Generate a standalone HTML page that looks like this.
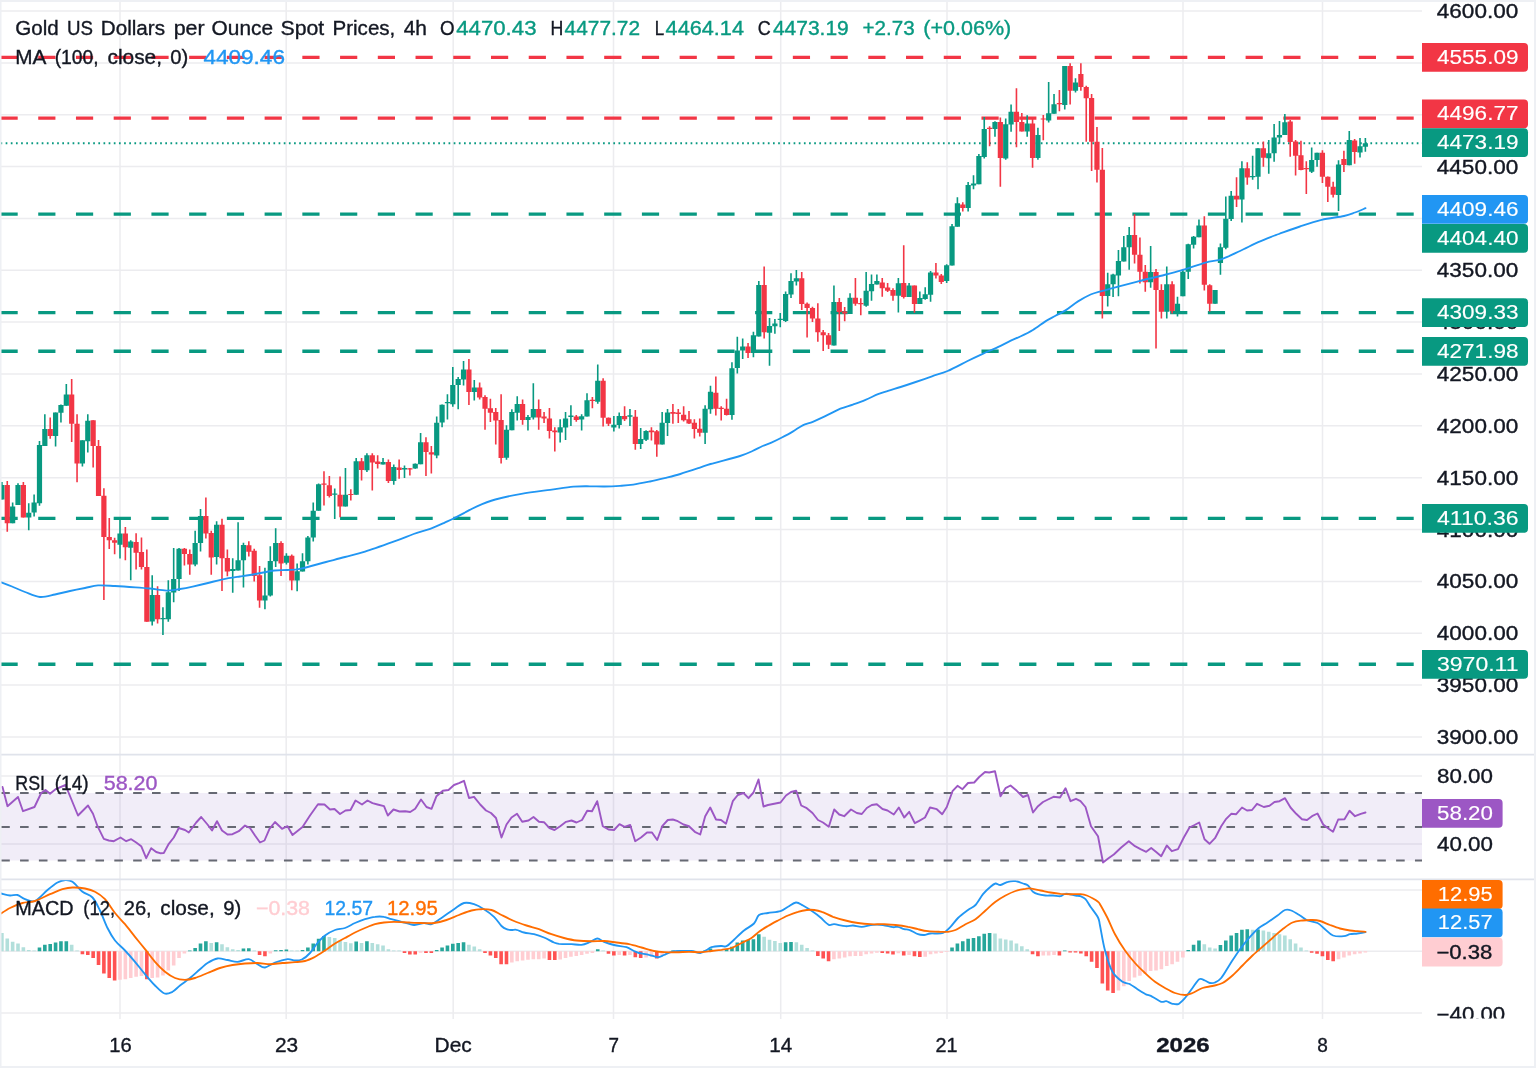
<!DOCTYPE html>
<html lang="en"><head><meta charset="utf-8"><title>Gold US Dollars per Ounce Spot Prices, 4h</title>
<style>html,body{margin:0;padding:0;background:#fff}body{width:1536px;height:1068px;overflow:hidden}svg{display:block}text{font-family:"Liberation Sans", sans-serif;font-size:19.3px;stroke-width:0.35px;paint-order:stroke}</style>
</head><body>
<svg width="1536" height="1068" viewBox="0 0 1536 1068">
<rect x="0" y="0" width="1536" height="1068" fill="#ffffff"/>
<g stroke="#ececef" stroke-width="1.5" fill="none">
<path d="M120.0 2V1019"/>
<path d="M286.2 2V1019"/>
<path d="M453.2 2V1019"/>
<path d="M613.5 2V1019"/>
<path d="M780.7 2V1019"/>
<path d="M947.0 2V1019"/>
<path d="M1183.0 2V1019"/>
<path d="M1322.5 2V1019"/>
<path d="M1 737.0H1422"/>
<path d="M1 685.1H1422"/>
<path d="M1 633.3H1422"/>
<path d="M1 581.4H1422"/>
<path d="M1 529.5H1422"/>
<path d="M1 477.7H1422"/>
<path d="M1 425.8H1422"/>
<path d="M1 374.0H1422"/>
<path d="M1 322.1H1422"/>
<path d="M1 270.3H1422"/>
<path d="M1 218.4H1422"/>
<path d="M1 166.6H1422"/>
<path d="M1 114.7H1422"/>
<path d="M1 62.9H1422"/>
<path d="M1 11.0H1422"/>
<path d="M1 776.1H1422"/>
<path d="M1 843.9H1422"/>
<path d="M1 890.0H1422"/>
<path d="M1 951.2H1422"/>
<path d="M1 1013.0H1422"/>
</g>
<rect x="1" y="793" width="1421" height="67.5" fill="#7e57c2" fill-opacity="0.11"/>
<g stroke="#666973" stroke-width="1.9" stroke-dasharray="8.6 10.25" fill="none">
<path d="M1.2 793.0H1422"/>
<path d="M1.2 827.0H1422"/>
<path d="M1.2 860.5H1422"/>
</g>
<g stroke-width="3.4" stroke-dasharray="17.2 20.53" fill="none">
<path d="M0.5 57.4H1422" stroke="#f23645"/>
<path d="M0.5 118.1H1422" stroke="#f23645"/>
<path d="M0.5 214.1H1422" stroke="#089981"/>
<path d="M0.5 312.6H1422" stroke="#089981"/>
<path d="M0.5 351.3H1422" stroke="#089981"/>
<path d="M0.5 518.4H1422" stroke="#089981"/>
<path d="M0.5 664.3H1422" stroke="#089981"/>
</g>
<path d="M0.5 143.2H1422" stroke="#089981" stroke-width="1.9" stroke-dasharray="1.7 3.45" fill="none"/>
<path d="M1.90 481.9V499.5M12.64 502.4V523.3M18.00 483.2V505.1M28.74 503.2V530.2M34.11 494.5V516.4M39.48 440.9V505.8M44.84 414.2V445.9M55.58 412.4V446.5M60.95 404.5V422.4M66.32 384.1V405.8M82.42 440.3V466.6M87.79 414.2V452.6M120.00 518.3V558.5M130.73 540.2V580.3M152.20 575.3V625.5M162.94 607.3V634.9M168.31 580.3V621.7M173.68 547.9V602.3M179.04 547.9V591.0M195.15 530.7V566.2M200.52 509.0V551.4M216.62 521.3V564.6M232.72 558.3V592.8M238.09 522.3V570.5M243.46 542.7V587.6M264.93 567.8V609.2M270.30 546.2V596.6M275.67 528.2V567.1M286.40 553.3V564.6M297.14 563.4V591.3M302.51 553.3V571.5M307.88 536.1V564.6M313.24 502.5V541.4M318.61 483.4V510.7M334.72 488.5V518.9M345.45 468.0V506.4M356.19 458.0V494.7M366.92 453.3V472.1M383.03 458.0V464.6M393.76 464.6V484.7M404.50 465.5V478.0M415.24 463.4V468.8M420.60 433.1V464.2M436.71 416.5V458.2M442.08 404.6V427.2M447.44 394.2V419.6M452.81 366.9V406.7M458.18 377.0V409.2M463.55 361.0V385.4M474.28 379.9V400.4M506.49 425.3V459.8M511.86 409.2V430.3M517.23 396.2V420.5M527.96 415.0V430.6M533.33 383.2V419.6M560.17 419.3V442.6M565.54 412.1V440.1M570.91 405.2V425.9M581.64 414.2V430.6M587.01 393.3V416.5M597.75 364.4V403.7M613.85 415.9V431.6M619.22 412.5V428.5M629.96 409.0V425.9M640.69 428.1V448.9M646.06 430.3V441.0M662.16 412.1V444.4M667.53 409.0V436.0M705.11 405.2V443.9M710.48 385.8V413.8M731.95 362.3V419.7M737.32 336.8V373.6M742.68 338.5V358.9M753.42 331.8V357.3M758.79 281.1V336.6M769.52 318.0V365.7M774.89 319.0V333.8M780.26 313.0V327.2M785.63 291.4V322.1M791.00 273.2V297.9M796.36 270.1V285.4M833.94 285.4V345.4M850.04 293.3V314.0M866.15 272.0V306.7M871.52 274.5V300.8M876.88 274.5V284.5M898.36 277.9V312.5M909.09 283.1V296.9M919.83 291.4V304.0M925.20 287.3V299.8M930.56 271.0V301.7M946.67 264.3V282.9M952.04 223.9V265.6M957.40 197.3V226.7M968.14 181.9V211.6M973.51 175.2V189.3M978.88 154.1V184.2M984.24 117.1V158.5M994.98 121.2V136.8M1005.72 118.4V159.8M1011.08 104.6V131.8M1027.19 115.2V136.8M1037.92 127.8V159.8M1048.66 82.0V122.5M1054.03 94.1V113.7M1064.76 66.0V109.6M1075.50 78.2V92.4M1107.71 272.7V306.5M1113.08 273.7V297.1M1118.44 250.1V296.2M1123.81 235.9V261.4M1129.18 227.1V269.8M1150.65 245.9V287.7M1166.76 266.6V318.5M1177.49 296.8V316.6M1182.86 269.1V296.2M1188.23 243.8V278.9M1193.60 235.9V248.5M1198.96 219.6V237.2M1215.07 290.0V303.8M1220.44 243.4V274.8M1225.80 196.4V249.3M1231.17 191.1V220.9M1241.91 161.3V222.5M1252.64 155.8V179.7M1258.01 148.3V189.3M1268.75 139.9V173.8M1274.12 124.1V161.7M1279.48 121.1V143.7M1284.85 114.1V135.1M1311.69 147.4V173.0M1317.06 152.7V166.8M1338.53 160.2V211.0M1349.27 131.1V165.2M1360.00 137.9V157.5M1365.37 137.9V151.7" stroke="#089981" stroke-width="1.6" fill="none"/>
<path d="M7.27 481.0V531.7M23.37 481.9V517.4M50.21 417.4V438.8M71.68 379.0V442.1M77.05 414.2V482.3M93.16 420.2V467.6M98.52 440.0V496.1M103.89 488.2V599.9M109.26 517.9V549.0M114.63 537.8V554.3M125.36 527.1V560.3M136.10 533.2V569.6M141.47 537.4V569.6M146.84 549.6V621.7M157.57 586.3V623.6M184.41 547.9V565.5M189.78 549.6V574.7M205.88 497.5V538.6M211.25 530.7V574.7M221.99 518.8V591.0M227.36 549.6V576.3M248.83 541.2V556.5M254.20 548.7V581.6M259.56 565.9V607.7M281.04 541.2V575.9M291.77 554.6V590.3M323.98 471.3V505.4M329.35 475.9V497.6M340.08 476.5V517.3M350.82 489.3V500.4M361.56 458.0V480.6M372.29 453.3V490.6M377.66 455.2V468.4M388.40 459.6V483.1M399.13 459.6V478.8M409.87 468.1V475.5M425.97 437.2V476.1M431.34 446.0V473.6M468.92 359.0V405.0M479.65 382.4V399.6M485.02 395.2V429.7M490.39 398.7V422.1M495.76 408.0V444.4M501.12 394.2V463.6M522.60 399.6V424.7M538.70 399.6V429.7M544.07 412.1V423.0M549.44 408.0V438.5M554.80 427.2V451.4M576.28 415.0V421.8M592.38 397.1V408.3M603.12 378.2V426.5M608.48 417.5V425.9M624.59 406.2V420.9M635.32 410.0V449.8M651.43 427.2V440.4M656.80 430.1V456.7M672.90 404.0V423.8M678.27 409.0V423.1M683.64 406.2V421.6M689.00 410.9V424.1M694.37 419.3V438.5M699.74 418.4V436.6M715.84 376.4V415.5M721.21 406.2V420.6M726.58 398.7V415.5M748.05 343.1V357.9M764.16 266.6V338.5M801.73 272.0V310.0M807.10 302.4V337.6M812.47 306.7V322.1M817.84 303.3V341.8M823.20 330.1V351.0M828.57 333.1V348.9M839.31 297.9V330.9M844.68 307.1V321.3M855.41 277.9V305.8M860.78 298.3V315.2M882.25 277.9V296.7M887.62 282.9V292.0M892.99 288.3V300.8M903.72 245.2V298.6M914.46 285.4V312.7M935.93 263.1V278.5M941.30 273.9V283.9M962.77 202.3V211.6M989.61 126.3V146.3M1000.35 117.5V186.7M1016.45 88.2V147.2M1021.82 113.0V131.5M1032.56 119.0V167.7M1043.29 115.0V140.3M1059.40 90.1V111.2M1070.13 63.2V104.6M1080.87 63.2V90.8M1086.24 85.7V141.8M1091.60 94.1V171.1M1096.97 127.1V182.4M1102.34 148.0V318.5M1134.55 214.2V263.5M1139.92 237.5V283.6M1145.28 265.1V291.7M1156.02 269.1V348.6M1161.39 284.2V318.5M1172.12 281.2V313.4M1204.33 216.2V290.5M1209.70 284.2V311.6M1236.54 177.3V207.1M1247.28 162.3V184.8M1263.38 141.4V166.8M1290.22 120.1V156.7M1295.59 139.9V175.5M1300.96 140.8V170.3M1306.32 161.2V193.9M1322.43 150.2V183.1M1327.80 176.5V201.9M1333.16 181.8V197.6M1343.90 150.8V172.1M1354.64 139.1V163.7" stroke="#f23645" stroke-width="1.6" fill="none"/>
<path d="M-0.70 485.1h5.2V499.5h-5.2zM10.04 506.4h5.2V523.3h-5.2zM15.40 485.1h5.2V505.1h-5.2zM26.14 512.7h5.2V517.4h-5.2zM31.51 502.4h5.2V512.4h-5.2zM36.88 445.0h5.2V503.2h-5.2zM42.24 429.0h5.2V445.9h-5.2zM52.98 412.4h5.2V435.9h-5.2zM58.35 405.1h5.2V412.7h-5.2zM63.72 394.5h5.2V405.8h-5.2zM79.82 440.3h5.2V463.5h-5.2zM85.19 420.8h5.2V441.3h-5.2zM117.40 533.4h5.2V544.7h-5.2zM128.13 541.4h5.2V547.7h-5.2zM149.60 595.1h5.2V621.5h-5.2zM160.34 617.9h5.2V619.2h-5.2zM165.71 592.2h5.2V619.2h-5.2zM171.08 579.0h5.2V592.6h-5.2zM176.44 548.7h5.2V579.0h-5.2zM192.55 542.9h5.2V564.6h-5.2zM197.92 516.1h5.2V542.9h-5.2zM214.02 524.8h5.2V557.1h-5.2zM230.12 569.0h5.2V570.9h-5.2zM235.49 560.2h5.2V570.5h-5.2zM240.86 544.9h5.2V560.2h-5.2zM262.33 595.4h5.2V600.6h-5.2zM267.70 560.9h5.2V595.6h-5.2zM273.07 542.9h5.2V561.2h-5.2zM283.80 555.8h5.2V562.7h-5.2zM294.54 571.3h5.2V580.6h-5.2zM299.91 561.2h5.2V571.5h-5.2zM305.28 537.4h5.2V561.2h-5.2zM310.64 510.7h5.2V537.4h-5.2zM316.01 484.3h5.2V510.7h-5.2zM332.12 493.5h5.2V494.7h-5.2zM342.85 494.7h5.2V506.4h-5.2zM353.59 461.2h5.2V494.7h-5.2zM364.32 455.2h5.2V470.3h-5.2zM380.43 462.1h5.2V464.6h-5.2zM391.16 467.1h5.2V480.9h-5.2zM401.90 468.1h5.2V469.4h-5.2zM412.64 463.7h5.2V468.4h-5.2zM418.00 442.2h5.2V464.2h-5.2zM434.11 422.8h5.2V455.4h-5.2zM439.48 404.8h5.2V422.5h-5.2zM444.84 402.1h5.2V403.3h-5.2zM450.21 385.1h5.2V404.2h-5.2zM455.58 379.1h5.2V385.1h-5.2zM460.95 369.4h5.2V379.5h-5.2zM471.68 387.6h5.2V392.0h-5.2zM503.89 429.7h5.2V457.7h-5.2zM509.26 412.1h5.2V430.3h-5.2zM514.63 404.0h5.2V412.7h-5.2zM525.36 417.1h5.2V420.0h-5.2zM530.73 409.0h5.2V417.5h-5.2zM557.57 427.2h5.2V432.6h-5.2zM562.94 418.4h5.2V427.5h-5.2zM568.31 415.5h5.2V417.1h-5.2zM579.04 416.2h5.2V419.6h-5.2zM584.41 400.2h5.2V416.5h-5.2zM595.15 380.7h5.2V401.7h-5.2zM611.25 424.7h5.2V427.6h-5.2zM616.62 415.9h5.2V425.1h-5.2zM627.36 415.3h5.2V416.8h-5.2zM638.09 439.1h5.2V443.9h-5.2zM643.46 431.0h5.2V439.7h-5.2zM659.56 422.8h5.2V444.4h-5.2zM664.93 412.5h5.2V423.1h-5.2zM702.51 408.8h5.2V432.8h-5.2zM707.88 391.7h5.2V409.3h-5.2zM729.35 368.2h5.2V415.0h-5.2zM734.72 350.4h5.2V367.9h-5.2zM740.08 346.4h5.2V350.4h-5.2zM750.82 335.3h5.2V352.9h-5.2zM756.19 284.9h5.2V336.6h-5.2zM766.92 325.9h5.2V332.8h-5.2zM772.29 323.4h5.2V326.3h-5.2zM777.66 318.8h5.2V320.0h-5.2zM783.03 293.9h5.2V320.9h-5.2zM788.40 281.1h5.2V294.5h-5.2zM793.76 278.2h5.2V281.4h-5.2zM831.34 302.1h5.2V345.4h-5.2zM847.44 297.7h5.2V314.0h-5.2zM863.55 290.8h5.2V305.8h-5.2zM868.92 284.1h5.2V291.2h-5.2zM874.28 281.1h5.2V284.5h-5.2zM895.76 283.2h5.2V295.8h-5.2zM906.49 285.4h5.2V296.9h-5.2zM917.23 297.9h5.2V304.0h-5.2zM922.60 294.2h5.2V298.9h-5.2zM927.96 272.6h5.2V294.8h-5.2zM944.07 265.3h5.2V281.0h-5.2zM949.44 226.2h5.2V265.6h-5.2zM954.80 203.2h5.2V226.7h-5.2zM965.54 185.0h5.2V207.9h-5.2zM970.91 183.6h5.2V185.5h-5.2zM976.28 156.0h5.2V184.2h-5.2zM981.64 129.0h5.2V156.9h-5.2zM992.38 122.1h5.2V129.0h-5.2zM1003.12 124.3h5.2V158.5h-5.2zM1008.48 111.7h5.2V124.6h-5.2zM1024.59 123.4h5.2V131.5h-5.2zM1035.32 135.1h5.2V158.1h-5.2zM1046.06 113.3h5.2V120.5h-5.2zM1051.43 104.2h5.2V113.7h-5.2zM1062.16 66.0h5.2V104.9h-5.2zM1072.90 82.6h5.2V90.8h-5.2zM1105.11 284.2h5.2V295.9h-5.2zM1110.48 274.5h5.2V284.2h-5.2zM1115.84 261.1h5.2V275.4h-5.2zM1121.21 247.2h5.2V261.4h-5.2zM1126.58 235.0h5.2V247.2h-5.2zM1148.05 271.9h5.2V282.3h-5.2zM1164.16 284.2h5.2V311.8h-5.2zM1174.89 303.8h5.2V311.6h-5.2zM1180.26 271.7h5.2V296.2h-5.2zM1185.63 244.3h5.2V271.7h-5.2zM1191.00 236.8h5.2V244.7h-5.2zM1196.36 225.5h5.2V237.2h-5.2zM1212.47 290.0h5.2V303.8h-5.2zM1217.84 247.2h5.2V262.9h-5.2zM1223.20 218.7h5.2V247.8h-5.2zM1228.57 195.8h5.2V219.0h-5.2zM1239.31 168.2h5.2V199.5h-5.2zM1250.04 175.9h5.2V177.2h-5.2zM1255.41 148.3h5.2V176.8h-5.2zM1266.15 153.3h5.2V158.3h-5.2zM1271.52 137.4h5.2V153.3h-5.2zM1276.88 134.9h5.2V137.6h-5.2zM1282.25 122.3h5.2V135.1h-5.2zM1309.09 160.0h5.2V171.8h-5.2zM1314.46 152.7h5.2V160.0h-5.2zM1335.93 164.6h5.2V195.1h-5.2zM1346.67 139.9h5.2V165.2h-5.2zM1357.40 146.2h5.2V152.4h-5.2zM1362.77 143.3h5.2V146.7h-5.2z" fill="#089981"/>
<path d="M4.67 485.1h5.2V523.3h-5.2zM20.77 485.1h5.2V517.4h-5.2zM47.61 429.0h5.2V435.9h-5.2zM69.08 394.5h5.2V423.7h-5.2zM74.45 423.7h5.2V463.5h-5.2zM90.56 420.2h5.2V445.9h-5.2zM95.92 445.9h5.2V496.1h-5.2zM101.29 495.7h5.2V537.1h-5.2zM106.66 537.1h5.2V540.3h-5.2zM112.03 540.3h5.2V542.8h-5.2zM122.76 533.4h5.2V547.2h-5.2zM133.50 542.0h5.2V552.7h-5.2zM138.87 552.1h5.2V567.1h-5.2zM144.24 567.1h5.2V621.7h-5.2zM154.97 595.1h5.2V619.2h-5.2zM181.81 548.7h5.2V554.0h-5.2zM187.18 554.0h5.2V564.6h-5.2zM203.28 516.1h5.2V533.6h-5.2zM208.65 532.9h5.2V557.5h-5.2zM219.39 524.8h5.2V558.3h-5.2zM224.76 558.0h5.2V571.5h-5.2zM246.23 545.2h5.2V551.7h-5.2zM251.60 550.8h5.2V575.9h-5.2zM256.96 575.3h5.2V600.6h-5.2zM278.44 542.9h5.2V563.4h-5.2zM289.17 555.8h5.2V580.6h-5.2zM321.38 483.4h5.2V484.7h-5.2zM326.75 485.3h5.2V496.0h-5.2zM337.48 494.7h5.2V506.4h-5.2zM348.22 493.9h5.2V495.1h-5.2zM358.96 461.2h5.2V470.0h-5.2zM369.69 455.2h5.2V462.5h-5.2zM375.06 461.5h5.2V464.0h-5.2zM385.80 462.1h5.2V480.9h-5.2zM396.53 467.5h5.2V470.0h-5.2zM407.27 468.2h5.2V469.4h-5.2zM423.37 442.2h5.2V451.9h-5.2zM428.74 452.3h5.2V454.4h-5.2zM466.32 369.4h5.2V392.0h-5.2zM477.05 387.6h5.2V397.4h-5.2zM482.42 397.1h5.2V408.7h-5.2zM487.79 408.3h5.2V412.7h-5.2zM493.16 412.1h5.2V420.5h-5.2zM498.52 420.0h5.2V457.9h-5.2zM520.00 404.0h5.2V420.0h-5.2zM536.10 409.0h5.2V417.5h-5.2zM541.47 416.5h5.2V418.4h-5.2zM546.84 418.4h5.2V430.9h-5.2zM552.20 430.6h5.2V432.2h-5.2zM573.68 416.5h5.2V420.0h-5.2zM589.78 399.8h5.2V401.0h-5.2zM600.52 380.7h5.2V417.8h-5.2zM605.88 417.8h5.2V423.8h-5.2zM621.99 415.9h5.2V419.3h-5.2zM632.72 416.8h5.2V443.9h-5.2zM648.83 430.6h5.2V432.2h-5.2zM654.20 431.3h5.2V444.4h-5.2zM670.30 412.1h5.2V413.8h-5.2zM675.67 412.5h5.2V414.0h-5.2zM681.04 414.7h5.2V420.3h-5.2zM686.40 419.3h5.2V423.4h-5.2zM691.77 422.8h5.2V429.1h-5.2zM697.14 428.8h5.2V432.8h-5.2zM713.24 392.7h5.2V408.8h-5.2zM718.61 407.8h5.2V409.0h-5.2zM723.98 408.8h5.2V415.0h-5.2zM745.45 346.4h5.2V352.9h-5.2zM761.56 284.9h5.2V332.2h-5.2zM799.13 278.2h5.2V304.0h-5.2zM804.50 303.7h5.2V308.0h-5.2zM809.87 308.0h5.2V318.4h-5.2zM815.24 318.4h5.2V332.2h-5.2zM820.60 332.2h5.2V335.3h-5.2zM825.97 335.3h5.2V344.7h-5.2zM836.71 302.1h5.2V312.1h-5.2zM842.08 311.5h5.2V313.4h-5.2zM852.81 297.7h5.2V303.7h-5.2zM858.18 302.9h5.2V304.2h-5.2zM879.65 282.4h5.2V288.3h-5.2zM885.02 287.4h5.2V290.8h-5.2zM890.39 289.9h5.2V295.8h-5.2zM901.12 283.1h5.2V296.9h-5.2zM911.86 285.6h5.2V304.0h-5.2zM933.33 272.6h5.2V275.4h-5.2zM938.70 275.4h5.2V281.9h-5.2zM960.17 204.5h5.2V207.9h-5.2zM987.01 127.8h5.2V129.0h-5.2zM997.75 122.1h5.2V158.1h-5.2zM1013.85 111.7h5.2V122.1h-5.2zM1019.22 122.1h5.2V131.5h-5.2zM1029.96 123.4h5.2V158.1h-5.2zM1040.69 118.4h5.2V119.6h-5.2zM1056.80 102.9h5.2V104.2h-5.2zM1067.53 66.0h5.2V90.8h-5.2zM1078.27 74.1h5.2V87.0h-5.2zM1083.64 87.0h5.2V98.3h-5.2zM1089.00 97.9h5.2V141.8h-5.2zM1094.37 141.8h5.2V169.8h-5.2zM1099.74 169.8h5.2V295.9h-5.2zM1131.95 235.0h5.2V254.7h-5.2zM1137.32 254.7h5.2V271.7h-5.2zM1142.68 271.7h5.2V282.3h-5.2zM1153.42 272.0h5.2V290.0h-5.2zM1158.79 290.0h5.2V311.8h-5.2zM1169.52 284.2h5.2V310.9h-5.2zM1201.73 225.5h5.2V284.8h-5.2zM1207.10 285.2h5.2V303.8h-5.2zM1233.94 195.8h5.2V199.5h-5.2zM1244.68 168.2h5.2V177.6h-5.2zM1260.78 148.3h5.2V157.7h-5.2zM1287.62 121.6h5.2V142.0h-5.2zM1292.99 141.4h5.2V155.8h-5.2zM1298.36 155.2h5.2V170.0h-5.2zM1303.72 168.0h5.2V169.3h-5.2zM1319.83 152.7h5.2V176.8h-5.2zM1325.20 176.8h5.2V186.8h-5.2zM1330.56 186.8h5.2V194.7h-5.2zM1341.30 159.0h5.2V165.0h-5.2zM1352.04 140.4h5.2V152.1h-5.2z" fill="#f23645"/>
<path d="M1.2 582.3C3.0 583.0 8.2 584.9 12.0 586.5C15.8 588.1 20.5 590.3 25.0 592.0C29.5 593.7 35.2 596.6 40.0 597.0C44.8 597.4 50.2 595.5 55.0 594.5C59.8 593.5 65.2 592.0 70.0 591.0C74.8 590.0 80.5 588.9 85.0 588.0C89.5 587.1 93.2 585.7 98.0 585.4C102.8 585.1 109.0 585.7 115.0 586.0C121.0 586.3 129.9 586.9 135.5 587.3C141.1 587.7 145.1 588.0 150.0 588.5C154.9 589.0 161.6 590.5 166.4 590.6C171.2 590.7 175.8 589.6 180.0 589.0C184.2 588.4 188.2 587.6 192.7 586.6C197.2 585.6 203.2 584.2 208.0 583.0C212.8 581.8 217.7 580.3 222.8 579.3C227.9 578.3 234.8 577.3 240.0 576.5C245.2 575.7 250.0 575.0 255.5 574.0C261.0 573.0 269.3 571.1 274.3 570.5C279.3 569.9 282.9 570.3 287.0 570.0C291.1 569.7 293.8 570.0 300.0 568.8C306.2 567.5 318.8 563.9 326.0 562.0C333.2 560.1 338.8 558.7 345.0 557.0C351.2 555.3 356.8 554.2 365.0 551.6C373.2 549.0 388.6 543.4 396.4 540.6C404.2 537.8 408.2 535.9 413.6 534.0C419.0 532.1 425.3 530.7 430.2 528.9C435.1 527.1 440.6 524.5 444.3 522.8C448.0 521.1 450.3 520.1 453.6 518.5C456.9 516.9 461.3 514.5 465.0 512.5C468.7 510.5 472.2 508.4 477.0 506.3C481.8 504.2 488.2 501.5 495.3 499.5C502.4 497.5 512.6 495.3 521.4 493.8C530.2 492.2 541.7 490.9 550.0 489.8C558.3 488.7 567.0 487.3 573.4 486.7C579.8 486.1 585.0 486.3 590.0 486.3C595.0 486.3 599.9 486.6 604.7 486.5C609.5 486.4 615.4 486.1 620.0 485.8C624.6 485.5 628.5 485.3 633.3 484.6C638.1 483.9 645.0 482.5 650.0 481.5C655.0 480.5 659.8 479.3 664.6 478.1C669.4 476.9 674.6 475.7 680.3 474.0C686.0 472.3 695.2 469.2 700.0 467.6C704.8 466.0 704.1 465.9 710.5 464.0C716.9 462.1 733.3 458.1 740.0 456.0C746.7 453.9 748.9 452.6 752.5 451.0C756.1 449.4 759.6 447.3 762.6 446.0C765.6 444.7 768.4 443.9 771.4 442.6C774.4 441.3 778.0 439.6 781.4 437.8C784.8 436.0 789.3 433.6 792.7 431.6C796.1 429.6 799.5 426.9 802.7 425.3C805.9 423.7 809.2 423.3 812.8 421.8C816.4 420.3 820.9 418.3 825.3 416.2C829.7 414.1 836.0 410.6 840.4 408.7C844.8 406.8 848.9 406.0 852.9 404.6C856.9 403.2 861.5 401.6 865.5 399.9C869.5 398.2 874.4 395.7 878.0 394.2C881.6 392.7 884.4 392.0 888.0 390.8C891.6 389.6 896.2 388.4 900.6 387.0C905.0 385.6 910.7 383.7 915.7 382.0C920.7 380.3 926.9 378.1 932.0 376.3C937.1 374.5 941.9 373.4 947.6 371.0C953.3 368.6 962.0 363.8 967.6 361.0C973.2 358.2 977.9 356.0 982.7 353.8C987.5 351.6 993.4 349.3 997.8 347.2C1002.2 345.1 1006.7 342.6 1010.3 340.9C1013.9 339.2 1016.7 338.2 1020.3 336.5C1023.9 334.8 1028.9 332.4 1032.9 330.0C1036.9 327.6 1041.8 323.7 1045.4 321.4C1049.0 319.1 1052.3 317.6 1055.5 315.8C1058.7 314.0 1061.9 312.7 1065.5 310.4C1069.1 308.1 1074.0 303.9 1078.0 301.4C1082.0 298.9 1087.0 296.1 1090.6 294.5C1094.2 292.9 1097.4 292.2 1100.6 291.3C1103.8 290.4 1107.3 289.5 1110.7 288.6C1114.1 287.7 1117.5 286.9 1122.0 285.7C1126.5 284.5 1132.9 282.8 1139.0 281.2C1145.1 279.6 1153.4 277.7 1160.0 276.0C1166.6 274.3 1173.1 272.8 1180.4 270.7C1187.7 268.6 1198.9 264.5 1205.5 262.6C1212.1 260.7 1216.3 261.0 1221.8 259.1C1227.3 257.2 1234.2 253.7 1240.0 251.0C1245.8 248.3 1253.1 244.5 1258.2 242.2C1263.3 239.9 1268.7 237.8 1272.0 236.5C1275.3 235.2 1274.4 235.6 1278.9 234.0C1283.4 232.4 1293.2 228.8 1300.0 226.5C1306.8 224.2 1314.6 221.5 1321.6 219.8C1328.6 218.1 1338.7 217.2 1344.0 216.0C1349.3 214.8 1351.6 213.7 1355.0 212.5C1358.4 211.3 1363.8 208.9 1365.5 208.2" stroke="#2196f3" stroke-width="1.85" fill="none" stroke-linejoin="round" stroke-linecap="round"/>
<path d="M2.5 787.0L7.5 806.2L18.0 797.0L23.0 811.2L34.5 807.0L41.2 793.0L45.5 790.0L50.0 793.8L56.2 788.8L65.5 785.0L67.5 790.0L78.0 815.5L88.0 805.5L93.0 813.8L97.5 826.2L103.8 838.8L108.8 840.5L113.8 841.2L120.5 837.5L126.2 841.2L131.2 839.2L136.2 842.5L141.2 846.2L146.2 858.2L151.2 848.2L156.2 852.0L160.0 853.2L163.8 853.0L168.8 843.8L173.8 837.5L178.8 828.0L185.0 830.0L188.8 832.5L196.2 822.5L201.2 817.0L207.5 824.5L212.0 830.5L217.0 821.2L222.0 830.5L227.5 834.5L232.5 834.2L238.8 831.2L245.0 825.5L250.0 828.0L255.0 835.5L260.0 842.5L264.5 840.5L269.5 828.8L275.0 822.0L282.0 828.8L287.5 826.2L292.5 835.0L302.5 827.0L310.0 815.5L318.0 804.2L324.5 804.5L330.0 809.5L334.5 809.0L340.0 814.0L345.5 810.5L350.5 810.0L355.5 800.5L362.0 804.5L367.5 800.5L372.5 803.2L377.5 804.5L384.0 806.2L387.8 815.5L393.5 809.5L399.5 811.5L405.2 811.2L410.2 812.0L415.2 808.8L421.0 799.5L426.5 807.0L431.5 808.8L436.5 796.2L442.8 790.8L448.5 790.0L454.0 785.0L459.0 783.2L464.0 780.8L469.0 798.0L474.0 796.8L480.2 804.5L486.0 810.5L491.0 813.0L496.0 818.0L501.5 837.5L506.5 824.5L511.5 817.5L517.0 813.8L522.2 821.8L528.5 820.5L533.5 817.0L539.0 821.8L544.0 822.2L549.5 828.2L554.5 830.0L560.2 826.2L566.0 821.8L571.5 820.5L576.5 822.5L582.0 820.0L587.2 810.8L592.0 811.2L597.2 801.2L602.8 826.2L608.5 829.5L614.0 830.0L619.5 824.2L624.5 826.8L630.2 825.0L635.2 841.2L641.0 837.5L647.0 832.5L652.0 832.5L657.2 840.0L662.2 826.2L667.8 820.0L672.8 819.5L677.8 821.2L683.5 824.5L689.0 826.2L694.8 831.8L700.2 834.5L705.2 816.2L710.2 807.5L716.0 819.5L721.0 820.0L726.0 823.8L732.8 801.2L737.8 795.0L743.5 793.0L748.5 798.2L753.5 792.5L758.5 779.5L763.5 806.5L768.0 805.0L774.2 803.8L780.5 802.5L786.0 795.5L791.0 792.0L796.2 790.8L801.2 805.5L806.8 808.2L812.5 813.0L818.0 820.0L823.0 822.5L828.8 826.8L834.2 809.5L839.2 814.5L844.2 816.2L851.0 809.5L856.8 813.0L861.8 814.0L866.8 808.0L871.8 805.0L876.8 804.2L882.5 809.0L887.5 810.5L893.8 814.5L898.8 807.5L904.2 817.5L909.2 811.8L914.8 823.2L919.2 820.8L925.0 817.5L930.0 807.5L936.8 809.2L942.2 814.2L946.8 807.0L952.5 791.2L957.5 785.8L962.5 789.2L968.0 783.0L974.2 782.5L979.2 777.0L985.0 772.0L989.2 772.5L995.0 771.2L1000.5 796.2L1005.5 788.2L1010.5 785.5L1016.8 790.8L1023.0 797.0L1028.0 795.0L1033.0 812.5L1038.0 806.2L1043.0 802.0L1048.0 799.5L1053.5 796.8L1060.0 797.5L1065.5 788.2L1070.5 801.2L1076.0 798.8L1080.5 801.2L1085.5 807.0L1091.0 826.2L1098.0 836.2L1103.0 862.5L1108.8 858.0L1113.8 854.5L1121.2 847.5L1128.8 841.2L1135.0 846.2L1140.5 849.2L1146.2 851.8L1151.2 848.0L1156.2 852.0L1161.2 856.2L1166.8 845.5L1171.8 851.2L1178.0 849.2L1183.8 837.5L1189.5 827.5L1194.5 825.0L1199.2 822.5L1204.5 839.2L1209.5 843.8L1215.0 838.2L1221.2 826.2L1226.2 818.8L1231.2 813.8L1236.2 814.2L1242.0 807.5L1247.0 810.5L1252.0 810.0L1257.0 803.8L1263.8 807.0L1269.5 805.8L1274.5 802.0L1279.5 801.2L1285.0 798.2L1290.5 807.5L1296.2 813.8L1302.0 819.2L1307.0 820.0L1312.0 816.2L1317.5 813.5L1323.2 824.5L1328.0 828.2L1333.0 831.8L1338.2 819.5L1344.5 819.2L1349.5 810.8L1355.0 816.2L1360.8 813.8L1365.5 812.5" stroke="#9c57c4" stroke-width="1.9" fill="none" stroke-linejoin="round" stroke-linecap="round"/>
<path d="M0.10 933.0h3.6v18.2h-3.6zM5.47 938.5h3.6v12.7h-3.6zM10.84 941.8h3.6v9.5h-3.6zM16.20 943.5h3.6v7.7h-3.6zM21.57 947.2h3.6v4.0h-3.6zM26.94 950.0h3.6v1.2h-3.6zM32.31 950.4h3.6v0.8h-3.6zM69.88 944.8h3.6v6.5h-3.6zM75.25 950.4h3.6v0.8h-3.6zM209.45 943.0h3.6v8.2h-3.6zM220.19 944.2h3.6v7.0h-3.6zM225.56 947.2h3.6v4.0h-3.6zM230.92 949.2h3.6v2.0h-3.6zM236.29 950.0h3.6v1.2h-3.6zM252.40 950.4h3.6v0.8h-3.6zM289.97 950.4h3.6v0.8h-3.6zM295.34 950.4h3.6v0.8h-3.6zM327.55 937.0h3.6v14.2h-3.6zM332.92 938.0h3.6v13.2h-3.6zM338.28 940.5h3.6v10.7h-3.6zM343.65 942.0h3.6v9.2h-3.6zM349.02 943.2h3.6v8.0h-3.6zM359.76 943.0h3.6v8.2h-3.6zM370.49 943.0h3.6v8.2h-3.6zM375.86 944.2h3.6v7.0h-3.6zM381.23 945.5h3.6v5.7h-3.6zM386.60 949.2h3.6v2.0h-3.6zM391.96 950.4h3.6v0.8h-3.6zM397.33 950.4h3.6v0.8h-3.6zM467.12 944.8h3.6v6.5h-3.6zM472.48 946.5h3.6v4.7h-3.6zM477.85 949.2h3.6v2.0h-3.6zM601.32 950.4h3.6v0.8h-3.6zM681.84 950.4h3.6v0.8h-3.6zM687.20 950.4h3.6v0.8h-3.6zM692.57 950.4h3.6v0.8h-3.6zM714.04 950.0h3.6v1.2h-3.6zM719.41 950.4h3.6v0.8h-3.6zM762.36 936.8h3.6v14.5h-3.6zM767.72 939.8h3.6v11.5h-3.6zM773.09 941.0h3.6v10.2h-3.6zM778.46 943.0h3.6v8.2h-3.6zM794.56 942.2h3.6v9.0h-3.6zM799.93 944.8h3.6v6.5h-3.6zM805.30 948.0h3.6v3.2h-3.6zM810.67 950.4h3.6v0.8h-3.6zM993.18 933.5h3.6v17.7h-3.6zM998.55 938.5h3.6v12.7h-3.6zM1003.92 939.5h3.6v11.7h-3.6zM1009.28 940.5h3.6v10.7h-3.6zM1014.65 943.5h3.6v7.7h-3.6zM1020.02 946.2h3.6v5.0h-3.6zM1025.39 949.2h3.6v2.0h-3.6zM1202.53 944.2h3.6v7.0h-3.6zM1207.90 947.5h3.6v3.7h-3.6zM1213.27 948.5h3.6v2.7h-3.6zM1250.84 929.8h3.6v21.5h-3.6zM1261.58 930.5h3.6v20.7h-3.6zM1266.95 931.8h3.6v19.5h-3.6zM1272.32 933.0h3.6v18.2h-3.6zM1277.68 934.2h3.6v17.0h-3.6zM1283.05 935.5h3.6v15.7h-3.6zM1288.42 939.2h3.6v12.0h-3.6zM1293.79 943.5h3.6v7.7h-3.6zM1299.16 947.5h3.6v3.7h-3.6zM1304.52 950.4h3.6v0.8h-3.6z" fill="#b2dfdb"/>
<path d="M118.20 951.2h3.6v28.5h-3.6zM123.56 951.2h3.6v28.0h-3.6zM128.93 951.2h3.6v26.8h-3.6zM134.30 951.2h3.6v25.5h-3.6zM139.67 951.2h3.6v24.8h-3.6zM150.40 951.2h3.6v26.8h-3.6zM155.77 951.2h3.6v26.3h-3.6zM161.14 951.2h3.6v24.3h-3.6zM166.51 951.2h3.6v19.3h-3.6zM171.88 951.2h3.6v14.3h-3.6zM177.24 951.2h3.6v6.8h-3.6zM182.61 951.2h3.6v2.3h-3.6zM268.50 951.2h3.6v2.3h-3.6zM418.80 951.2h3.6v1.5h-3.6zM510.06 951.2h3.6v11.3h-3.6zM515.43 951.2h3.6v10.0h-3.6zM520.80 951.2h3.6v9.3h-3.6zM526.16 951.2h3.6v8.5h-3.6zM531.53 951.2h3.6v8.0h-3.6zM536.90 951.2h3.6v8.0h-3.6zM542.27 951.2h3.6v7.3h-3.6zM558.37 951.2h3.6v8.3h-3.6zM563.74 951.2h3.6v6.8h-3.6zM569.11 951.2h3.6v5.5h-3.6zM574.48 951.2h3.6v4.8h-3.6zM579.84 951.2h3.6v3.8h-3.6zM585.21 951.2h3.6v2.5h-3.6zM590.58 951.2h3.6v1.8h-3.6zM617.42 951.2h3.6v3.8h-3.6zM628.16 951.2h3.6v3.8h-3.6zM644.26 951.2h3.6v6.3h-3.6zM649.63 951.2h3.6v5.5h-3.6zM660.36 951.2h3.6v4.3h-3.6zM665.73 951.2h3.6v1.8h-3.6zM697.94 951.2h3.6v1.0h-3.6zM832.14 951.2h3.6v8.0h-3.6zM837.51 951.2h3.6v7.3h-3.6zM842.88 951.2h3.6v6.3h-3.6zM848.24 951.2h3.6v5.0h-3.6zM853.61 951.2h3.6v4.8h-3.6zM858.98 951.2h3.6v4.8h-3.6zM864.35 951.2h3.6v3.0h-3.6zM869.72 951.2h3.6v2.3h-3.6zM875.08 951.2h3.6v1.5h-3.6zM896.56 951.2h3.6v2.0h-3.6zM907.29 951.2h3.6v3.8h-3.6zM923.40 951.2h3.6v5.5h-3.6zM928.76 951.2h3.6v3.0h-3.6zM934.13 951.2h3.6v2.3h-3.6zM939.50 951.2h3.6v1.8h-3.6zM944.87 951.2h3.6v0.9h-3.6zM1041.49 951.2h3.6v4.3h-3.6zM1046.86 951.2h3.6v4.3h-3.6zM1052.23 951.2h3.6v3.8h-3.6zM1116.64 951.2h3.6v39.3h-3.6zM1122.01 951.2h3.6v35.0h-3.6zM1127.38 951.2h3.6v29.8h-3.6zM1132.75 951.2h3.6v26.3h-3.6zM1138.12 951.2h3.6v24.5h-3.6zM1143.48 951.2h3.6v22.5h-3.6zM1148.85 951.2h3.6v19.8h-3.6zM1154.22 951.2h3.6v19.3h-3.6zM1159.59 951.2h3.6v18.0h-3.6zM1164.96 951.2h3.6v14.8h-3.6zM1170.32 951.2h3.6v13.0h-3.6zM1175.69 951.2h3.6v10.5h-3.6zM1181.06 951.2h3.6v6.3h-3.6zM1336.73 951.2h3.6v8.0h-3.6zM1342.10 951.2h3.6v6.3h-3.6zM1347.47 951.2h3.6v4.3h-3.6zM1352.84 951.2h3.6v3.0h-3.6zM1358.20 951.2h3.6v2.3h-3.6zM1363.57 951.2h3.6v1.3h-3.6z" fill="#ffcdd2"/>
<path d="M37.68 947.5h3.6v3.7h-3.6zM43.04 944.8h3.6v6.5h-3.6zM48.41 944.0h3.6v7.2h-3.6zM53.78 942.5h3.6v8.7h-3.6zM59.15 941.2h3.6v10.0h-3.6zM64.52 941.2h3.6v10.0h-3.6zM187.98 950.4h3.6v0.8h-3.6zM193.35 948.0h3.6v3.2h-3.6zM198.72 943.5h3.6v7.7h-3.6zM204.08 941.2h3.6v10.0h-3.6zM214.82 942.2h3.6v9.0h-3.6zM241.66 948.5h3.6v2.7h-3.6zM247.03 948.2h3.6v3.0h-3.6zM273.87 950.2h3.6v1.0h-3.6zM279.24 950.0h3.6v1.2h-3.6zM284.60 949.5h3.6v1.7h-3.6zM300.71 950.0h3.6v1.2h-3.6zM306.08 947.5h3.6v3.7h-3.6zM311.44 943.5h3.6v7.7h-3.6zM316.81 938.8h3.6v12.5h-3.6zM322.18 936.0h3.6v15.2h-3.6zM354.39 941.5h3.6v9.7h-3.6zM365.12 941.2h3.6v10.0h-3.6zM434.91 950.0h3.6v1.2h-3.6zM440.28 947.5h3.6v3.7h-3.6zM445.64 945.5h3.6v5.7h-3.6zM451.01 943.8h3.6v7.5h-3.6zM456.38 943.0h3.6v8.2h-3.6zM461.75 942.2h3.6v9.0h-3.6zM595.95 949.2h3.6v2.0h-3.6zM671.10 950.4h3.6v0.8h-3.6zM676.47 950.4h3.6v0.8h-3.6zM703.31 950.4h3.6v0.8h-3.6zM708.68 948.5h3.6v2.7h-3.6zM724.78 949.0h3.6v2.2h-3.6zM730.15 946.8h3.6v4.5h-3.6zM735.52 942.5h3.6v8.7h-3.6zM740.88 940.5h3.6v10.7h-3.6zM746.25 940.0h3.6v11.2h-3.6zM751.62 939.2h3.6v12.0h-3.6zM756.99 934.2h3.6v17.0h-3.6zM783.83 942.2h3.6v9.0h-3.6zM789.20 942.0h3.6v9.2h-3.6zM950.24 947.5h3.6v3.7h-3.6zM955.60 943.5h3.6v7.7h-3.6zM960.97 941.2h3.6v10.0h-3.6zM966.34 938.8h3.6v12.5h-3.6zM971.71 938.0h3.6v13.2h-3.6zM977.08 936.2h3.6v15.0h-3.6zM982.44 933.8h3.6v17.5h-3.6zM987.81 933.0h3.6v18.2h-3.6zM1062.96 950.4h3.6v0.8h-3.6zM1186.43 950.0h3.6v1.2h-3.6zM1191.80 944.8h3.6v6.5h-3.6zM1197.16 940.5h3.6v10.7h-3.6zM1218.64 945.0h3.6v6.2h-3.6zM1224.00 940.5h3.6v10.7h-3.6zM1229.37 935.5h3.6v15.7h-3.6zM1234.74 933.0h3.6v18.2h-3.6zM1240.11 929.8h3.6v21.5h-3.6zM1245.48 929.2h3.6v22.0h-3.6zM1256.21 929.5h3.6v21.7h-3.6z" fill="#26a69a"/>
<path d="M80.62 951.2h3.6v3.0h-3.6zM85.99 951.2h3.6v3.8h-3.6zM91.36 951.2h3.6v6.8h-3.6zM96.72 951.2h3.6v13.8h-3.6zM102.09 951.2h3.6v22.3h-3.6zM107.46 951.2h3.6v26.8h-3.6zM112.83 951.2h3.6v29.3h-3.6zM145.04 951.2h3.6v28.0h-3.6zM257.76 951.2h3.6v3.8h-3.6zM263.13 951.2h3.6v5.0h-3.6zM402.70 951.2h3.6v1.8h-3.6zM408.07 951.2h3.6v3.3h-3.6zM413.44 951.2h3.6v3.3h-3.6zM424.17 951.2h3.6v1.8h-3.6zM429.54 951.2h3.6v1.8h-3.6zM483.22 951.2h3.6v1.8h-3.6zM488.59 951.2h3.6v4.3h-3.6zM493.96 951.2h3.6v6.8h-3.6zM499.32 951.2h3.6v13.0h-3.6zM504.69 951.2h3.6v13.0h-3.6zM547.64 951.2h3.6v8.8h-3.6zM553.00 951.2h3.6v8.8h-3.6zM606.68 951.2h3.6v2.5h-3.6zM612.05 951.2h3.6v4.3h-3.6zM622.79 951.2h3.6v4.3h-3.6zM633.52 951.2h3.6v6.0h-3.6zM638.89 951.2h3.6v6.8h-3.6zM655.00 951.2h3.6v7.3h-3.6zM816.04 951.2h3.6v4.8h-3.6zM821.40 951.2h3.6v7.3h-3.6zM826.77 951.2h3.6v10.0h-3.6zM880.45 951.2h3.6v1.7h-3.6zM885.82 951.2h3.6v2.3h-3.6zM891.19 951.2h3.6v3.3h-3.6zM901.92 951.2h3.6v4.3h-3.6zM912.66 951.2h3.6v5.0h-3.6zM918.03 951.2h3.6v5.8h-3.6zM1030.76 951.2h3.6v3.0h-3.6zM1036.12 951.2h3.6v5.0h-3.6zM1057.60 951.2h3.6v4.3h-3.6zM1068.33 951.2h3.6v1.3h-3.6zM1073.70 951.2h3.6v1.4h-3.6zM1079.07 951.2h3.6v2.3h-3.6zM1084.44 951.2h3.6v5.0h-3.6zM1089.80 951.2h3.6v10.5h-3.6zM1095.17 951.2h3.6v16.8h-3.6zM1100.54 951.2h3.6v32.3h-3.6zM1105.91 951.2h3.6v39.3h-3.6zM1111.28 951.2h3.6v41.8h-3.6zM1309.89 951.2h3.6v1.5h-3.6zM1315.26 951.2h3.6v2.5h-3.6zM1320.63 951.2h3.6v5.0h-3.6zM1326.00 951.2h3.6v8.8h-3.6zM1331.36 951.2h3.6v10.0h-3.6z" fill="#ff5252"/>
<path d="M1.2 893.5C2.7 893.8 7.4 895.3 10.0 895.5C12.6 895.7 15.1 894.4 17.5 895.0C19.9 895.6 22.2 898.3 25.0 899.2C27.8 900.2 31.4 902.5 35.0 901.0C38.6 899.5 43.9 893.0 47.5 890.0C51.1 887.0 54.6 884.1 57.5 882.5C60.4 880.9 63.1 880.1 65.5 880.0C67.9 879.9 69.8 879.9 72.5 881.8C75.2 883.6 79.3 889.2 82.5 891.8C85.7 894.3 89.7 894.5 92.5 897.5C95.3 900.5 97.6 905.6 100.0 910.5C102.4 915.4 105.1 923.2 107.5 928.0C109.9 932.8 112.2 936.9 115.0 940.5C117.8 944.1 121.8 947.1 125.0 950.5C128.2 953.9 131.8 958.0 135.0 961.8C138.2 965.5 141.8 970.5 145.0 974.2C148.2 978.0 151.9 982.4 155.0 985.5C158.1 988.6 161.7 992.5 164.5 993.5C167.3 994.5 170.0 993.0 172.5 991.8C175.0 990.5 177.2 987.7 180.0 985.5C182.8 983.3 186.8 980.6 190.0 978.0C193.2 975.4 197.2 971.6 200.0 969.2C202.8 966.9 204.7 964.7 207.5 963.0C210.3 961.3 214.3 959.0 217.5 958.5C220.7 958.0 224.3 959.5 227.5 960.0C230.7 960.5 234.1 961.9 237.5 961.8C240.9 961.6 245.6 958.9 248.8 959.2C251.9 959.6 254.9 962.9 257.5 964.2C260.1 965.6 262.2 967.8 265.0 967.5C267.8 967.2 271.4 963.8 275.0 962.5C278.6 961.2 284.3 959.6 287.5 959.2C290.7 958.9 292.6 960.5 295.0 960.5C297.4 960.5 300.1 960.5 302.5 959.2C304.9 958.0 307.6 955.6 310.0 953.0C312.4 950.4 315.1 945.8 317.5 943.0C319.9 940.2 322.2 937.6 325.0 935.5C327.8 933.4 331.8 931.2 335.0 930.0C338.2 928.8 341.8 929.1 345.0 928.0C348.2 926.9 351.8 924.4 355.0 923.0C358.2 921.6 361.8 920.2 365.0 919.2C368.2 918.2 372.0 917.1 375.0 916.8C378.0 916.4 381.4 916.4 384.0 916.8C386.6 917.1 388.7 918.5 391.5 919.2C394.3 920.0 397.9 920.8 401.5 921.8C405.1 922.7 410.4 924.8 414.0 925.0C417.6 925.2 421.2 923.1 424.0 923.0C426.8 922.9 428.7 925.0 431.5 924.2C434.3 923.5 437.9 920.4 441.5 918.0C445.1 915.6 450.4 911.6 454.0 909.2C457.6 906.9 460.8 903.8 464.0 903.0C467.2 902.2 470.8 903.2 474.0 904.2C477.2 905.2 480.8 907.2 484.0 909.2C487.2 911.2 491.2 914.1 494.0 916.8C496.8 919.4 499.5 924.0 501.5 926.0C503.5 928.0 504.9 928.6 506.5 929.2C508.1 929.9 509.9 929.9 511.5 930.0C513.1 930.1 514.5 929.4 516.5 929.8C518.5 930.1 521.2 931.8 524.0 932.5C526.8 933.2 530.8 933.5 534.0 934.2C537.2 935.0 540.8 936.2 544.0 937.5C547.2 938.8 551.6 941.5 554.0 942.5C556.4 943.5 556.2 943.5 559.0 943.8C561.8 944.0 567.9 944.1 571.5 944.2C575.1 944.4 578.7 945.0 581.5 944.8C584.3 944.5 586.5 943.5 589.0 942.5C591.5 941.5 594.9 938.6 597.2 938.5C599.6 938.4 601.3 940.7 604.0 941.8C606.7 942.8 610.4 944.1 614.0 945.0C617.6 945.9 623.3 946.3 626.5 947.2C629.7 948.2 632.0 950.1 634.0 951.0C636.0 951.9 636.6 952.4 639.0 953.0C641.4 953.6 646.0 954.1 649.0 954.8C652.0 955.4 655.4 957.2 657.8 957.2C660.1 957.3 661.8 955.9 664.0 955.0C666.2 954.1 668.7 952.4 671.5 951.8C674.3 951.1 678.3 951.1 681.5 951.0C684.7 950.9 688.5 950.7 691.5 951.0C694.5 951.3 697.9 953.2 700.2 953.0C702.6 952.8 704.7 950.9 706.5 950.0C708.3 949.1 709.1 947.9 711.5 947.2C713.9 946.6 719.1 946.2 721.5 946.0C723.9 945.8 724.5 947.2 726.5 946.2C728.5 945.2 731.2 942.3 734.0 939.8C736.8 937.2 740.8 933.1 744.0 930.5C747.2 927.9 751.6 926.0 754.0 923.5C756.4 921.0 756.8 916.7 759.0 915.0C761.2 913.3 764.6 913.6 768.0 913.0C771.4 912.4 777.3 912.2 780.5 911.2C783.7 910.2 785.5 908.1 788.0 906.8C790.5 905.4 793.6 902.7 796.0 902.5C798.4 902.3 800.3 904.0 803.0 905.5C805.7 907.0 810.2 909.8 813.0 911.8C815.8 913.7 818.0 915.4 820.5 917.5C823.0 919.6 826.5 923.7 828.8 924.8C831.0 925.8 831.6 924.0 834.2 924.2C836.9 924.5 842.5 926.0 845.5 926.2C848.5 926.5 850.4 925.4 853.0 925.5C855.6 925.6 858.5 926.9 861.8 926.8C865.0 926.6 869.6 925.0 873.0 924.8C876.4 924.5 879.8 924.6 883.0 925.0C886.2 925.4 890.6 927.0 893.0 927.2C895.4 927.5 896.2 926.4 898.0 926.8C899.8 927.1 902.5 928.8 904.2 929.2C906.0 929.7 907.0 929.0 909.2 929.8C911.5 930.5 915.6 933.4 918.0 934.2C920.4 935.1 922.2 935.1 924.2 935.0C926.2 934.9 927.5 933.8 930.5 933.5C933.5 933.2 939.8 934.1 943.0 933.0C946.2 931.9 948.1 929.1 950.5 926.8C952.9 924.4 955.2 920.7 958.0 918.0C960.8 915.3 965.2 912.1 968.0 910.0C970.8 907.9 973.1 907.5 975.5 905.0C977.9 902.5 980.6 897.2 983.0 894.2C985.4 891.3 988.5 888.5 990.5 886.8C992.5 885.0 993.9 883.8 995.5 883.5C997.1 883.2 998.5 885.3 1000.5 885.0C1002.5 884.7 1005.6 882.4 1008.0 881.8C1010.4 881.1 1013.1 881.0 1015.5 881.2C1017.9 881.5 1021.0 882.8 1023.0 883.5C1025.0 884.2 1026.4 884.2 1028.0 885.5C1029.6 886.8 1031.4 890.4 1033.0 891.8C1034.6 893.1 1036.0 893.6 1038.0 894.2C1040.0 894.9 1043.1 895.3 1045.5 895.5C1047.9 895.7 1050.6 895.4 1053.0 895.5C1055.4 895.6 1058.5 896.5 1060.5 896.2C1062.5 896.0 1063.1 893.9 1065.5 893.8C1067.9 893.6 1073.1 895.1 1075.5 895.5C1077.9 895.9 1078.9 895.6 1080.5 896.2C1082.1 896.9 1083.9 897.6 1085.5 899.2C1087.1 900.9 1088.5 903.8 1090.5 906.8C1092.5 909.7 1096.5 914.5 1098.0 917.5C1099.5 920.5 1098.9 920.2 1100.0 925.5C1101.1 930.8 1103.0 943.1 1105.0 950.5C1107.0 957.9 1109.7 966.8 1112.5 971.8C1115.3 976.8 1119.7 979.8 1122.5 981.8C1125.3 983.8 1127.6 983.0 1130.0 984.2C1132.4 985.5 1135.1 987.7 1137.5 989.2C1139.9 990.8 1142.6 992.5 1145.0 993.8C1147.4 995.0 1149.9 995.5 1152.5 996.8C1155.1 998.0 1159.0 1001.0 1161.2 1001.8C1163.5 1002.5 1164.5 1000.9 1166.2 1001.2C1168.0 1001.6 1170.5 1003.4 1172.5 1003.8C1174.5 1004.1 1176.8 1004.7 1178.8 1003.8C1180.8 1002.8 1182.8 1000.5 1185.0 998.0C1187.2 995.5 1190.2 991.0 1192.5 988.0C1194.8 985.0 1197.2 980.5 1199.2 979.2C1201.2 978.0 1203.3 979.9 1205.0 980.5C1206.7 981.1 1208.4 982.7 1210.0 983.0C1211.6 983.3 1213.2 983.3 1215.0 982.5C1216.8 981.7 1218.8 980.9 1221.2 978.0C1223.7 975.1 1227.0 968.9 1230.0 964.2C1233.0 959.6 1236.8 953.6 1240.0 949.2C1243.2 944.9 1247.0 940.1 1250.0 936.8C1253.0 933.4 1256.0 930.3 1258.8 928.0C1261.5 925.7 1264.5 924.5 1267.5 922.5C1270.5 920.5 1274.7 917.5 1277.5 915.5C1280.3 913.5 1282.8 910.8 1285.0 910.0C1287.2 909.2 1288.8 909.6 1291.2 910.5C1293.7 911.4 1297.4 913.9 1300.0 915.5C1302.6 917.1 1304.7 919.3 1307.5 920.5C1310.3 921.7 1314.7 921.6 1317.5 923.0C1320.3 924.4 1322.5 927.2 1325.0 929.2C1327.5 931.2 1330.0 934.4 1333.0 935.5C1336.0 936.6 1341.0 936.5 1343.8 936.2C1346.5 936.0 1347.8 934.7 1350.0 934.2C1352.2 933.8 1355.0 933.8 1357.5 933.5C1360.0 933.2 1364.2 932.5 1365.5 932.2" stroke="#2196f3" stroke-width="1.85" fill="none" stroke-linejoin="round" stroke-linecap="round"/>
<path d="M0.0 914.2C1.6 913.2 6.4 909.8 10.0 908.0C13.6 906.2 18.5 904.1 22.5 903.0C26.5 901.9 30.6 902.4 35.0 901.0C39.4 899.6 45.6 896.1 50.0 894.2C54.4 892.4 58.9 890.3 62.5 889.2C66.1 888.2 68.9 887.6 72.5 887.5C76.1 887.4 81.4 887.8 85.0 888.5C88.6 889.2 91.8 890.0 95.0 891.8C98.2 893.5 101.8 895.9 105.0 899.2C108.2 902.6 111.8 909.0 115.0 913.0C118.2 917.0 121.8 920.5 125.0 924.2C128.2 928.0 131.8 932.8 135.0 936.8C138.2 940.8 141.8 945.2 145.0 949.2C148.2 953.2 151.8 958.1 155.0 961.8C158.2 965.4 161.8 969.1 165.0 971.8C168.2 974.4 171.8 976.7 175.0 978.0C178.2 979.3 181.8 979.8 185.0 979.8C188.2 979.8 191.4 979.1 195.0 978.0C198.6 976.9 203.5 974.6 207.5 973.0C211.5 971.4 216.0 969.3 220.0 968.0C224.0 966.7 228.5 965.7 232.5 965.0C236.5 964.3 241.0 963.8 245.0 963.5C249.0 963.2 253.5 962.9 257.5 963.0C261.5 963.1 266.0 964.2 270.0 964.2C274.0 964.2 278.5 963.3 282.5 963.0C286.5 962.7 291.4 962.6 295.0 962.2C298.6 961.9 301.8 961.9 305.0 961.0C308.2 960.1 311.8 958.4 315.0 956.8C318.2 955.1 321.8 952.6 325.0 950.5C328.2 948.4 331.8 945.5 335.0 943.5C338.2 941.5 341.8 939.8 345.0 938.0C348.2 936.2 351.8 934.1 355.0 932.5C358.2 930.9 361.8 929.3 365.0 928.0C368.2 926.7 372.0 925.1 375.0 924.2C378.0 923.4 381.0 922.9 384.0 922.5C387.0 922.1 390.0 921.8 394.0 921.8C398.0 921.8 404.6 922.3 409.0 922.5C413.4 922.7 417.5 922.9 421.5 923.0C425.5 923.1 430.0 923.5 434.0 923.0C438.0 922.5 442.5 921.3 446.5 920.0C450.5 918.7 455.0 916.5 459.0 915.0C463.0 913.5 467.9 911.4 471.5 910.5C475.1 909.6 478.3 909.3 481.5 909.2C484.7 909.2 488.3 909.1 491.5 910.0C494.7 910.9 497.9 913.2 501.5 915.0C505.1 916.8 510.0 919.3 514.0 921.0C518.0 922.7 522.5 924.2 526.5 925.5C530.5 926.8 535.0 927.9 539.0 929.2C543.0 930.6 547.5 932.9 551.5 934.2C555.5 935.6 560.0 937.0 564.0 938.0C568.0 939.0 572.1 940.0 576.5 940.5C580.9 941.0 587.1 941.2 591.5 941.2C595.9 941.3 600.0 940.8 604.0 941.0C608.0 941.2 612.5 942.0 616.5 942.5C620.5 943.0 625.0 943.5 629.0 944.2C633.0 945.0 637.5 946.4 641.5 947.5C645.5 948.6 650.4 950.2 654.0 951.0C657.6 951.8 660.4 952.0 664.0 952.2C667.6 952.5 672.5 952.3 676.5 952.2C680.5 952.2 685.0 951.8 689.0 951.8C693.0 951.8 697.9 952.4 701.5 952.2C705.1 952.1 708.3 951.4 711.5 951.0C714.7 950.6 718.3 950.2 721.5 949.8C724.7 949.3 728.3 949.1 731.5 948.0C734.7 946.9 738.3 944.6 741.5 943.0C744.7 941.4 748.7 939.8 751.5 938.0C754.3 936.2 756.4 933.7 759.0 931.8C761.6 929.8 765.0 927.8 768.0 926.0C771.0 924.2 774.8 922.2 778.0 920.5C781.2 918.8 784.8 916.9 788.0 915.5C791.2 914.1 795.0 912.6 798.0 911.8C801.0 910.9 804.1 910.3 806.8 910.0C809.4 909.7 811.9 909.7 814.2 910.0C816.6 910.3 818.8 910.7 821.8 911.8C824.8 912.8 829.2 915.4 833.0 916.8C836.8 918.1 841.5 919.5 845.5 920.5C849.5 921.5 854.0 922.4 858.0 923.0C862.0 923.6 866.5 924.0 870.5 924.2C874.5 924.5 879.0 924.1 883.0 924.2C887.0 924.4 891.5 924.6 895.5 925.0C899.5 925.4 904.4 926.1 908.0 926.8C911.6 927.4 914.8 928.5 918.0 929.2C921.2 930.0 924.4 930.9 928.0 931.2C931.6 931.6 937.3 931.7 940.5 931.8C943.7 931.8 945.6 932.0 948.0 931.8C950.4 931.5 952.7 931.2 955.5 930.0C958.3 928.8 962.3 926.0 965.5 924.2C968.7 922.5 972.3 921.5 975.5 919.2C978.7 917.0 982.3 913.3 985.5 910.5C988.7 907.7 992.3 904.1 995.5 901.8C998.7 899.4 1002.3 897.2 1005.5 895.5C1008.7 893.8 1012.3 892.1 1015.5 891.0C1018.7 889.9 1023.1 889.1 1025.5 888.8C1027.9 888.4 1028.1 888.2 1030.5 888.5C1032.9 888.8 1037.3 889.9 1040.5 890.5C1043.7 891.1 1047.3 892.0 1050.5 892.5C1053.7 893.0 1057.3 893.5 1060.5 893.8C1063.7 894.0 1067.3 894.2 1070.5 894.2C1073.7 894.3 1077.9 894.0 1080.5 894.2C1083.1 894.5 1084.8 894.8 1086.8 895.5C1088.8 896.2 1091.2 897.5 1093.0 898.5C1094.8 899.5 1096.9 900.8 1098.0 901.8C1099.1 902.7 1098.5 901.6 1100.0 904.2C1101.5 906.9 1105.1 913.2 1107.5 918.0C1109.9 922.8 1112.2 929.0 1115.0 934.2C1117.8 939.5 1121.8 945.9 1125.0 950.5C1128.2 955.1 1131.8 959.4 1135.0 963.0C1138.2 966.6 1141.8 970.0 1145.0 973.0C1148.2 976.0 1151.8 979.4 1155.0 981.8C1158.2 984.1 1161.8 986.2 1165.0 988.0C1168.2 989.8 1171.8 991.9 1175.0 993.0C1178.2 994.1 1182.2 995.0 1185.0 995.0C1187.8 995.0 1189.7 994.1 1192.5 993.0C1195.3 991.9 1199.3 989.1 1202.5 988.0C1205.7 986.9 1209.3 986.8 1212.5 986.0C1215.7 985.2 1219.3 984.7 1222.5 983.0C1225.7 981.3 1229.3 978.3 1232.5 975.5C1235.7 972.7 1239.3 968.7 1242.5 965.5C1245.7 962.3 1249.3 958.5 1252.5 955.5C1255.7 952.5 1259.3 949.5 1262.5 946.8C1265.7 944.0 1269.3 940.8 1272.5 938.0C1275.7 935.2 1279.3 931.7 1282.5 929.2C1285.7 926.8 1289.3 923.9 1292.5 922.5C1295.7 921.1 1299.3 920.9 1302.5 920.5C1305.7 920.1 1309.7 919.9 1312.5 920.0C1315.3 920.1 1317.2 920.2 1320.0 921.0C1322.8 921.8 1326.8 923.8 1330.0 925.0C1333.2 926.2 1336.8 927.6 1340.0 928.5C1343.2 929.4 1347.2 930.1 1350.0 930.5C1352.8 930.9 1355.0 931.0 1357.5 931.2C1360.0 931.5 1364.2 931.7 1365.5 931.8" stroke="#ff6d00" stroke-width="1.85" fill="none" stroke-linejoin="round" stroke-linecap="round"/>
<rect x="1422" y="0" width="114" height="1068" fill="#fff"/>
<rect x="0" y="1019.2" width="1536" height="48.8" fill="#fff"/>
<path d="M0 754.7H1536 M0 879.3H1536" stroke="#e0e3eb" stroke-width="1.8" fill="none"/>
<text x="1436.8" y="744.0" fill="#131722" stroke="#131722" textLength="81.5" lengthAdjust="spacingAndGlyphs">3900.00</text>
<text x="1436.8" y="692.1" fill="#131722" stroke="#131722" textLength="81.5" lengthAdjust="spacingAndGlyphs">3950.00</text>
<text x="1436.8" y="640.3" fill="#131722" stroke="#131722" textLength="81.5" lengthAdjust="spacingAndGlyphs">4000.00</text>
<text x="1436.8" y="588.4" fill="#131722" stroke="#131722" textLength="81.5" lengthAdjust="spacingAndGlyphs">4050.00</text>
<text x="1436.8" y="536.5" fill="#131722" stroke="#131722" textLength="81.5" lengthAdjust="spacingAndGlyphs">4100.00</text>
<text x="1436.8" y="484.7" fill="#131722" stroke="#131722" textLength="81.5" lengthAdjust="spacingAndGlyphs">4150.00</text>
<text x="1436.8" y="432.8" fill="#131722" stroke="#131722" textLength="81.5" lengthAdjust="spacingAndGlyphs">4200.00</text>
<text x="1436.8" y="381.0" fill="#131722" stroke="#131722" textLength="81.5" lengthAdjust="spacingAndGlyphs">4250.00</text>
<text x="1436.8" y="329.1" fill="#131722" stroke="#131722" textLength="81.5" lengthAdjust="spacingAndGlyphs">4300.00</text>
<text x="1436.8" y="277.3" fill="#131722" stroke="#131722" textLength="81.5" lengthAdjust="spacingAndGlyphs">4350.00</text>
<text x="1436.8" y="173.6" fill="#131722" stroke="#131722" textLength="81.5" lengthAdjust="spacingAndGlyphs">4450.00</text>
<text x="1436.8" y="69.9" fill="#131722" stroke="#131722" textLength="81.5" lengthAdjust="spacingAndGlyphs">4550.00</text>
<text x="1436.8" y="18.0" fill="#131722" stroke="#131722" textLength="81.5" lengthAdjust="spacingAndGlyphs">4600.00</text>
<text x="1437.0" y="782.8" fill="#131722" stroke="#131722" textLength="56.0" lengthAdjust="spacingAndGlyphs">80.00</text>
<text x="1437.0" y="850.6" fill="#131722" stroke="#131722" textLength="56.0" lengthAdjust="spacingAndGlyphs">40.00</text>
<clipPath id="cb"><rect x="1400" y="990" width="136" height="28.6"/></clipPath>
<text x="1436.6" y="1020.7" fill="#131722" stroke="#131722" textLength="68.6" lengthAdjust="spacingAndGlyphs" clip-path="url(#cb)">−40.00</text>
<path d="M1422 42.9H1524.0a4 4 0 0 1 4 4V67.7a4 4 0 0 1 -4 4H1422z" fill="#f23645"/>
<text x="1437.0" y="63.8" fill="#fff" stroke="#fff" style="stroke-width:0.12px;" textLength="81.5" lengthAdjust="spacingAndGlyphs">4555.09</text>
<path d="M1422 99.5H1524.0a4 4 0 0 1 4 4V124.3a4 4 0 0 1 -4 4H1422z" fill="#f23645"/>
<text x="1437.0" y="120.4" fill="#fff" stroke="#fff" style="stroke-width:0.12px;" textLength="81.5" lengthAdjust="spacingAndGlyphs">4496.77</text>
<path d="M1422 128.3H1524.0a4 4 0 0 1 4 4V153.1a4 4 0 0 1 -4 4H1422z" fill="#089981"/>
<text x="1437.0" y="149.2" fill="#fff" stroke="#fff" style="stroke-width:0.12px;" textLength="81.5" lengthAdjust="spacingAndGlyphs">4473.19</text>
<path d="M1422 194.9H1524.0a4 4 0 0 1 4 4V219.7a4 4 0 0 1 -4 4H1422z" fill="#2196f3"/>
<text x="1437.0" y="215.8" fill="#fff" stroke="#fff" style="stroke-width:0.12px;" textLength="81.5" lengthAdjust="spacingAndGlyphs">4409.46</text>
<path d="M1422 223.9H1524.0a4 4 0 0 1 4 4V248.7a4 4 0 0 1 -4 4H1422z" fill="#089981"/>
<text x="1437.0" y="244.8" fill="#fff" stroke="#fff" style="stroke-width:0.12px;" textLength="81.5" lengthAdjust="spacingAndGlyphs">4404.40</text>
<path d="M1422 298.3H1524.0a4 4 0 0 1 4 4V323.1a4 4 0 0 1 -4 4H1422z" fill="#089981"/>
<text x="1437.0" y="319.2" fill="#fff" stroke="#fff" style="stroke-width:0.12px;" textLength="81.5" lengthAdjust="spacingAndGlyphs">4309.33</text>
<path d="M1422 337.0H1524.0a4 4 0 0 1 4 4V361.8a4 4 0 0 1 -4 4H1422z" fill="#089981"/>
<text x="1437.0" y="357.9" fill="#fff" stroke="#fff" style="stroke-width:0.12px;" textLength="81.5" lengthAdjust="spacingAndGlyphs">4271.98</text>
<path d="M1422 504.0H1524.0a4 4 0 0 1 4 4V528.8a4 4 0 0 1 -4 4H1422z" fill="#089981"/>
<text x="1437.0" y="524.9" fill="#fff" stroke="#fff" style="stroke-width:0.12px;" textLength="81.5" lengthAdjust="spacingAndGlyphs">4110.36</text>
<path d="M1422 649.9H1524.0a4 4 0 0 1 4 4V674.7a4 4 0 0 1 -4 4H1422z" fill="#089981"/>
<text x="1437.0" y="670.8" fill="#fff" stroke="#fff" style="stroke-width:0.12px;" textLength="81.5" lengthAdjust="spacingAndGlyphs">3970.11</text>
<path d="M1422 799.0H1498.6a4 4 0 0 1 4 4V823.8a4 4 0 0 1 -4 4H1422z" fill="#9c57c4"/>
<text x="1437.0" y="819.9" fill="#fff" stroke="#fff" style="stroke-width:0.12px;" textLength="56.0" lengthAdjust="spacingAndGlyphs">58.20</text>
<path d="M1422 880.1H1498.6a4 4 0 0 1 4 4V904.9a4 4 0 0 1 -4 4H1422z" fill="#ff6d00"/>
<text x="1437.8" y="901.0" fill="#fff" stroke="#fff" style="stroke-width:0.12px;" textLength="54.8" lengthAdjust="spacingAndGlyphs">12.95</text>
<path d="M1422 908.5H1498.6a4 4 0 0 1 4 4V933.3a4 4 0 0 1 -4 4H1422z" fill="#2196f3"/>
<text x="1437.8" y="929.4" fill="#fff" stroke="#fff" style="stroke-width:0.12px;" textLength="54.8" lengthAdjust="spacingAndGlyphs">12.57</text>
<path d="M1422 937.6H1498.6a4 4 0 0 1 4 4V962.4a4 4 0 0 1 -4 4H1422z" fill="#ffcdd2"/>
<text x="1436.4" y="958.5" fill="#131722" stroke="#131722" textLength="56.0" lengthAdjust="spacingAndGlyphs">−0.38</text>
<text x="109.3" y="1051.8" fill="#131722" stroke="#131722" style="font-size:19.8px;" textLength="22.5" lengthAdjust="spacingAndGlyphs">16</text>
<text x="274.9" y="1051.8" fill="#131722" stroke="#131722" style="font-size:19.8px;" textLength="23.2" lengthAdjust="spacingAndGlyphs">23</text>
<text x="434.6" y="1051.8" fill="#131722" stroke="#131722" style="font-size:19.8px;" textLength="37.2" lengthAdjust="spacingAndGlyphs">Dec</text>
<text x="608.4" y="1051.8" fill="#131722" stroke="#131722" style="font-size:19.8px;" textLength="10.5" lengthAdjust="spacingAndGlyphs">7</text>
<text x="769.2" y="1051.8" fill="#131722" stroke="#131722" style="font-size:19.8px;" textLength="23.0" lengthAdjust="spacingAndGlyphs">14</text>
<text x="935.6" y="1051.8" fill="#131722" stroke="#131722" style="font-size:19.8px;" textLength="22.0" lengthAdjust="spacingAndGlyphs">21</text>
<text x="1317.3" y="1051.8" fill="#131722" stroke="#131722" style="font-size:19.8px;" textLength="10.6" lengthAdjust="spacingAndGlyphs">8</text>
<text x="1183.0" y="1051.6" fill="#131722" stroke="#131722" textLength="53.5" lengthAdjust="spacingAndGlyphs" font-weight="bold" text-anchor="middle">2026</text>
<text y="35.0" style="font-size:19.9px"><tspan x="15.3" textLength="43.4" lengthAdjust="spacingAndGlyphs" fill="#131722" stroke="#131722">Gold</tspan> <tspan x="67.0" textLength="26.0" lengthAdjust="spacingAndGlyphs" fill="#131722" stroke="#131722">US</tspan> <tspan x="100.8" textLength="64.2" lengthAdjust="spacingAndGlyphs" fill="#131722" stroke="#131722">Dollars</tspan> <tspan x="173.7" textLength="31.0" lengthAdjust="spacingAndGlyphs" fill="#131722" stroke="#131722">per</tspan> <tspan x="211.6" textLength="61.4" lengthAdjust="spacingAndGlyphs" fill="#131722" stroke="#131722">Ounce</tspan> <tspan x="280.5" textLength="43.7" lengthAdjust="spacingAndGlyphs" fill="#131722" stroke="#131722">Spot</tspan> <tspan x="332.5" textLength="62.8" lengthAdjust="spacingAndGlyphs" fill="#131722" stroke="#131722">Prices,</tspan> <tspan x="403.7" textLength="23.3" lengthAdjust="spacingAndGlyphs" fill="#131722" stroke="#131722">4h</tspan> <tspan x="440.0" textLength="14.6" lengthAdjust="spacingAndGlyphs" fill="#131722" stroke="#131722">O</tspan> <tspan x="456.2" textLength="80.3" lengthAdjust="spacingAndGlyphs" fill="#089981" stroke="#089981">4470.43</tspan> <tspan x="550.4" textLength="12.8" lengthAdjust="spacingAndGlyphs" fill="#131722" stroke="#131722">H</tspan> <tspan x="564.6" textLength="75.4" lengthAdjust="spacingAndGlyphs" fill="#089981" stroke="#089981">4477.72</tspan> <tspan x="654.8" textLength="8.8" lengthAdjust="spacingAndGlyphs" fill="#131722" stroke="#131722">L</tspan> <tspan x="665.6" textLength="78.4" lengthAdjust="spacingAndGlyphs" fill="#089981" stroke="#089981">4464.14</tspan> <tspan x="757.8" textLength="13.0" lengthAdjust="spacingAndGlyphs" fill="#131722" stroke="#131722">C</tspan> <tspan x="772.9" textLength="75.9" lengthAdjust="spacingAndGlyphs" fill="#089981" stroke="#089981">4473.19</tspan> <tspan x="862.5" textLength="52.1" lengthAdjust="spacingAndGlyphs" fill="#089981" stroke="#089981">+2.73</tspan> <tspan x="923.3" textLength="88.0" lengthAdjust="spacingAndGlyphs" fill="#089981" stroke="#089981">(+0.06%)</tspan></text>
<text y="64.0" style="font-size:19.9px"><tspan x="15.3" textLength="30.0" lengthAdjust="spacingAndGlyphs" fill="#131722" stroke="#131722">MA</tspan> <tspan x="54.7" textLength="44.0" lengthAdjust="spacingAndGlyphs" fill="#131722" stroke="#131722">(100,</tspan> <tspan x="107.5" textLength="54.5" lengthAdjust="spacingAndGlyphs" fill="#131722" stroke="#131722">close,</tspan> <tspan x="170.3" textLength="18.0" lengthAdjust="spacingAndGlyphs" fill="#131722" stroke="#131722">0)</tspan> <tspan x="203.4" textLength="81.6" lengthAdjust="spacingAndGlyphs" fill="#2196f3" stroke="#2196f3">4409.46</tspan></text>
<text y="789.6" style="font-size:19.9px"><tspan x="15.3" textLength="29.7" lengthAdjust="spacingAndGlyphs" fill="#131722" stroke="#131722">RSI</tspan> <tspan x="54.7" textLength="34.0" lengthAdjust="spacingAndGlyphs" fill="#131722" stroke="#131722">(14)</tspan> <tspan x="103.7" textLength="53.8" lengthAdjust="spacingAndGlyphs" fill="#9c57c4" stroke="#9c57c4">58.20</tspan></text>
<text y="914.8" style="font-size:19.9px"><tspan x="15.3" textLength="58.4" lengthAdjust="spacingAndGlyphs" fill="#131722" stroke="#131722">MACD</tspan> <tspan x="83.3" textLength="31.7" lengthAdjust="spacingAndGlyphs" fill="#131722" stroke="#131722">(12,</tspan> <tspan x="123.7" textLength="28.0" lengthAdjust="spacingAndGlyphs" fill="#131722" stroke="#131722">26,</tspan> <tspan x="160.3" textLength="54.4" lengthAdjust="spacingAndGlyphs" fill="#131722" stroke="#131722">close,</tspan> <tspan x="223.3" textLength="18.0" lengthAdjust="spacingAndGlyphs" fill="#131722" stroke="#131722">9)</tspan> <tspan x="256.0" textLength="54.0" lengthAdjust="spacingAndGlyphs" fill="#ffcdd2" stroke="#ffcdd2">−0.38</tspan> <tspan x="324.5" textLength="48.5" lengthAdjust="spacingAndGlyphs" fill="#2196f3" stroke="#2196f3">12.57</tspan> <tspan x="387.0" textLength="50.8" lengthAdjust="spacingAndGlyphs" fill="#ff6d00" stroke="#ff6d00">12.95</tspan></text>
<path d="M0 0H1536 V1068 H0z M1.5 1.9 V1066.0 H1534.0 V1.9z" fill="#eef0f4" fill-rule="evenodd"/>
</svg></body></html>
